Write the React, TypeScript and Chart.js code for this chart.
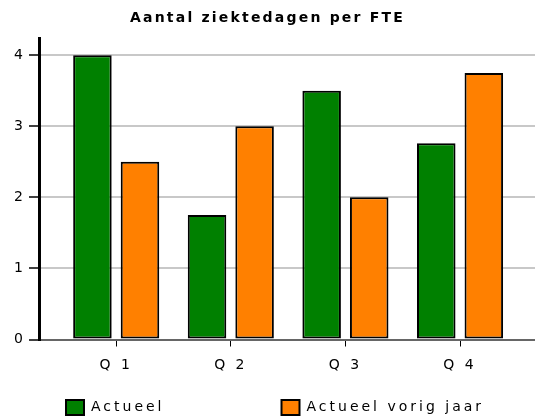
import React, { useEffect, useRef } from 'react';
import { Chart, registerables } from 'chart.js';

Chart.register(...registerables);

const chartTitle = 'Aantal ziektedagen per FTE';
const categories = ['Q 1', 'Q 2', 'Q 3', 'Q 4'];
const seriesNames = ['Actueel', 'Actueel vorig jaar'];
const actueel = [4.0, 1.75, 3.5, 2.76];
const vorigJaar = [2.5, 3.0, 2.0, 3.75];
const yTicks = [0, 1, 2, 3, 4];

const FONT = "'DejaVu Sans', Verdana, sans-serif";
const LEGEND_X = 66;
const LEGEND_Y = 400;
const LEGEND_H = 35.7;
const WIDE = 10000;

const textPlugin = {
  id: 'textStyle',
  beforeInit(chart: any) {
    const t = chart.titleBlock;
    if (t) {
      const origDraw = t.draw;
      t.draw = function (...args: any[]) {
        const ctx = chart.ctx;
        ctx.save();
        ctx.letterSpacing = '2.2px';
        origDraw.apply(this, args);
        ctx.restore();
      };
    }
    const lg = chart.legend;
    if (lg) {
      const origFit = lg.fit;
      lg.fit = function () {
        const mw = this.maxWidth;
        this.maxWidth = WIDE;
        origFit.call(this);
        this.maxWidth = mw;
        this.width = mw;
        this.height = LEGEND_H;
      };
    }
  },
  beforeLayout(chart: any) {
    chart.ctx.letterSpacing = '3px';
  },
  afterLayout(chart: any) {
    const lg = chart.legend;
    if (!lg || !lg.lineWidths) return;
    const P = lg.options.labels.padding;
    const lw = lg.lineWidths[0];
    lg.left = LEGEND_X - (P + WIDE - lw) / 2;
    lg.right = lg.left + WIDE;
    lg.top = LEGEND_Y - P;
  },
  beforeDraw(chart: any) {
    chart.ctx.letterSpacing = '3px';
  },
};

export default function App() {
  const ref = useRef<HTMLCanvasElement | null>(null);

  useEffect(() => {
    document.body.style.margin = '0';
    const canvas = ref.current;
    if (!canvas) return;
    const font = { family: FONT, size: 14 };
    const chart = new Chart(canvas, {
      type: 'bar',
      data: {
        datasets: [
          {
            label: seriesNames[0],
            data: actueel.map((v, i) => ({ x: i, y: v })),
            backgroundColor: '#008000',
            borderColor: '#000000',
            borderWidth: 2,
            borderSkipped: false,
          },
          {
            label: seriesNames[1],
            data: vorigJaar.map((v, i) => ({ x: i, y: v })),
            backgroundColor: '#ff8000',
            borderColor: '#000000',
            borderWidth: 2,
            borderSkipped: false,
          },
        ] as any,
      },
      plugins: [textPlugin],
      options: {
        animation: false,
        responsive: false,
        datasets: { bar: { categoryPercentage: 0.83, barPercentage: 0.81 } } as any,
        layout: { padding: 0 },
        plugins: {
          title: {
            display: true,
            text: chartTitle,
            color: '#000',
            font: { family: FONT, size: 14, weight: 'bold' },
            padding: { top: 10, bottom: 12 },
          },
          legend: {
            position: 'bottom',
            labels: {
              color: '#000',
              font,
              boxWidth: 18,
              boxHeight: 15,
              padding: 117,
            },
          },
          tooltip: { enabled: false },
        },
        scales: {
          x: {
            type: 'linear',
            offset: false,
            bounds: 'data',
            min: -0.6736,
            max: 3.654,
            afterBuildTicks: (s: any) => {
              s.ticks = categories.map((_, i) => ({ value: i }));
            },
            ticks: {
              callback: (v: any) => categories[v] ?? '',
              color: '#000',
              font,
              padding: 10,
              autoSkip: false,
              maxRotation: 0,
            },
            grid: {
              offset: false,
              drawOnChartArea: false,
              drawTicks: true,
              tickLength: 7,
              tickColor: '#000',
              tickWidth: 1,
            },
            border: { color: '#666', width: 2 },
          },
          y: {
            min: 0,
            max: 4.23,
            afterBuildTicks: (s: any) => {
              s.ticks = yTicks.map((v) => ({ value: v }));
            },
            afterFit: (s: any) => {
              s.width = 39;
            },
            ticks: { color: '#000', font, padding: 3 },
            grid: {
              color: '#c8c8c8',
              lineWidth: 2,
              tickLength: 10,
              tickColor: '#000',
              tickWidth: 1.5,
            },
            border: { color: '#000', width: 3 },
          },
        } as any,
      },
    });
    return () => chart.destroy();
  }, []);

  return (
    <div style={{ width: 535, height: 419 }}>
      <canvas ref={ref} width={535} height={419} style={{ display: 'block' }} />
    </div>
  );
}
